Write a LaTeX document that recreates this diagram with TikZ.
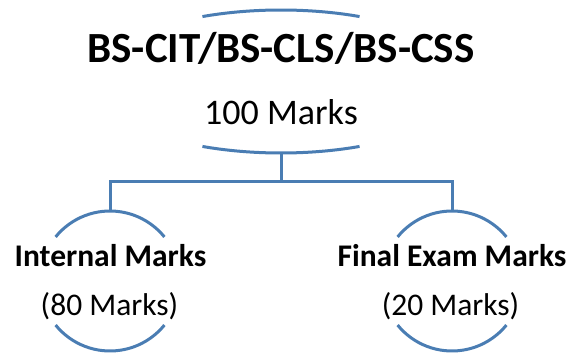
\documentclass[tikz,border=0pt]{standalone}
\usepackage{fontspec}
\setmainfont{Carlito}
\usetikzlibrary{shapes.geometric}
\definecolor{arcblue}{HTML}{4A7DB3}
\begin{document}
\begin{tikzpicture}[x=1pt,y=1pt,
  arcline/.style={draw=arcblue,line width=3pt},
  holder/.style={inner sep=0pt,outer sep=0pt},
  lbl/.style={inner sep=0pt,anchor=base,text=black}]
\useasboundingbox (0,0) rectangle (571,354);
% shape holders
\node[holder,ellipse,minimum width=376,minimum height=143] (top) at (281,272.5) {};
\node[holder,circle,minimum size=140] (cl) at (110,73) {};
\node[holder,circle,minimum size=140] (cr) at (452,73) {};
% arcs
\draw[arcline] ([shift={(114.7:188 and 71.5)}]top.center) arc[start angle=114.7,end angle=65.3,x radius=188,y radius=71.5];
\draw[arcline] ([shift={(245.3:188 and 71.5)}]top.center) arc[start angle=245.3,end angle=294.7,x radius=188,y radius=71.5];
\foreach \c in {cl,cr}{
  \draw[arcline] ([shift={(141:70)}]\c.center) arc[start angle=141,end angle=39,radius=70];
  \draw[arcline] ([shift={(219:70)}]\c.center) arc[start angle=219,end angle=321,radius=70];
}
% texts
\node[lbl,font=\fontsize{43}{50}\selectfont\bfseries] (title) at (281,291) {BS-CIT/BS-CLS/BS-CSS};
\node[lbl,font=\fontsize{36}{43}\selectfont] (total) at (281,229) {100 Marks};
\node[lbl,font=\fontsize{31.5}{38}\selectfont\bfseries] (int) at (110.5,88) {Internal Marks};
\node[lbl,font=\fontsize{31.5}{38}\selectfont] (intm) at (109.5,38) {(80 Marks)};
\node[lbl,font=\fontsize{31.5}{38}\selectfont\bfseries] (fin) at (452,88) {Final Exam Marks};
\node[lbl,font=\fontsize{31.5}{38}\selectfont] (finm) at (450.5,38) {(20 Marks)};
% connectors
\coordinate (split) at (281,172);
\draw[arcline] (top.south) -- (split);
\draw[arcline] (split) -| (cl.north);
\draw[arcline] (split) -| (cr.north);
\end{tikzpicture}
\end{document}
